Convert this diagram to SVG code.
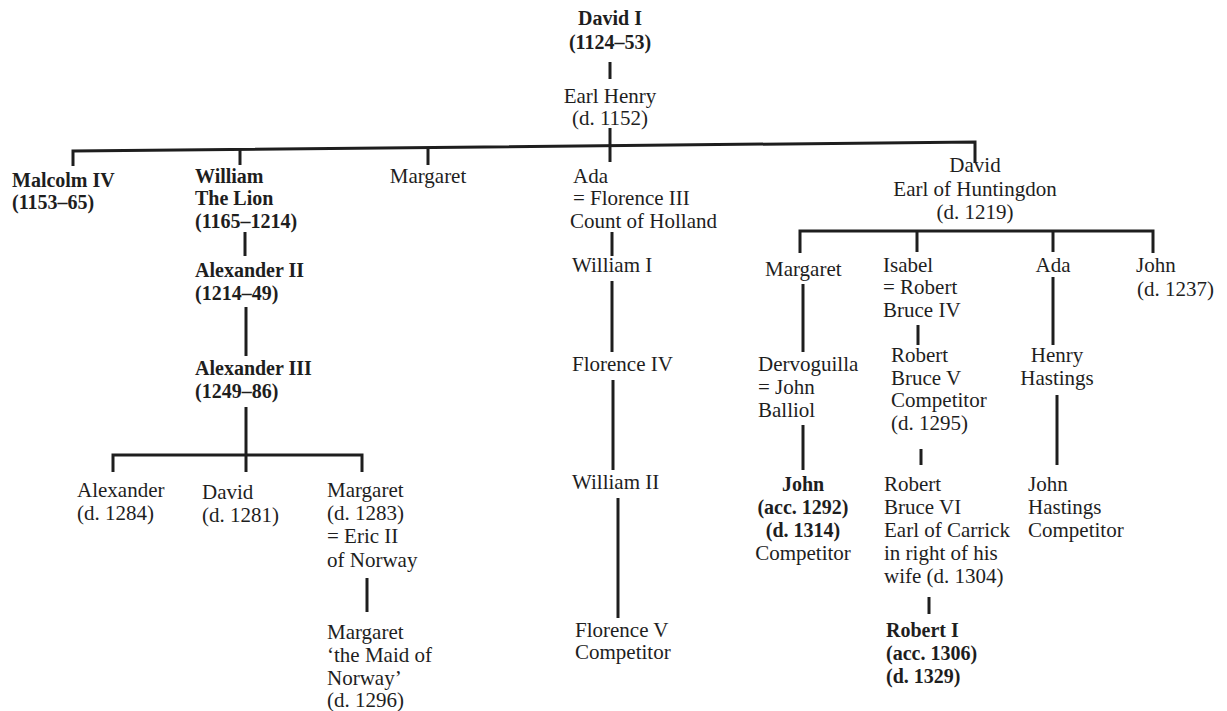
<svg xmlns="http://www.w3.org/2000/svg" width="1227" height="711" viewBox="0 0 1227 711">
<style>
text{font-family:"Liberation Serif","Times New Roman",serif;font-size:21px;fill:#1e1e1e}
.b{font-weight:bold;font-size:20px}
.m{text-anchor:middle}
#connectors path{fill:none;stroke:#1e1e1e;stroke-width:3}
</style>
<rect width="1227" height="711" fill="#fff"/>
<g id="connectors">
<path d="M610,62V79"/>
<path d="M610,128V162"/>
<path d="M73,166V151L975,142V163"/>
<path d="M240,149V165"/>
<path d="M428,147V165"/>
<path d="M245,232V256"/>
<path d="M246,307V356"/>
<path d="M246,407V472"/>
<path d="M113,472V455H362V472"/>
<path d="M367,578V612"/>
<path d="M612,232V256"/>
<path d="M612,281V352"/>
<path d="M613,380V470"/>
<path d="M618,498V618"/>
<path d="M800,253V231H1153V253"/>
<path d="M917,231V252"/>
<path d="M1053,231V252"/>
<path d="M803,284V352"/>
<path d="M803,425V470"/>
<path d="M918,325V345"/>
<path d="M921,449V465"/>
<path d="M929,597V614"/>
<path d="M1053,277V345"/>
<path d="M1057,395V465"/>
</g>
<g id="david1"><text class="b m" x="610" y="25">David I</text><text class="b m" x="610" y="49">(1124–53)</text></g>
<g id="earlhenry"><text class="m" x="610" y="103">Earl Henry</text><text class="m" x="610" y="125">(d. 1152)</text></g>
<g id="malcolm"><text class="b" x="12" y="187">Malcolm IV</text><text class="b" x="12" y="209">(1153–65)</text></g>
<g id="william"><text class="b" x="195" y="183">William</text><text class="b" x="195" y="205">The Lion</text><text class="b" x="195" y="228">(1165–1214)</text></g>
<g id="margaret1"><text class="m" x="428" y="183">Margaret</text></g>
<g id="ada1"><text x="573" y="183">Ada</text><text x="573" y="205">= Florence III</text><text x="570" y="228">Count of Holland</text></g>
<g id="davidhunt"><text class="m" x="975" y="172">David</text><text class="m" x="975" y="196">Earl of Huntingdon</text><text class="m" x="975" y="219">(d. 1219)</text></g>
<g id="alex2"><text class="b" x="195" y="277">Alexander II</text><text class="b" x="195" y="300">(1214–49)</text></g>
<g id="alex3"><text class="b" x="195" y="375">Alexander III</text><text class="b" x="195" y="398">(1249–86)</text></g>
<g id="alexander"><text x="77" y="497">Alexander</text><text x="77" y="520">(d. 1284)</text></g>
<g id="david2"><text x="202" y="499">David</text><text x="202" y="522">(d. 1281)</text></g>
<g id="margaret2"><text x="327" y="497">Margaret</text><text x="327" y="520">(d. 1283)</text><text x="327" y="543">= Eric II</text><text x="327" y="567">of Norway</text></g>
<g id="maid"><text x="327" y="639">Margaret</text><text x="327" y="662">‘the Maid of</text><text x="327" y="685">Norway’</text><text x="327" y="707">(d. 1296)</text></g>
<g id="william1"><text x="572" y="272">William I</text></g>
<g id="florence4"><text x="572" y="371">Florence IV</text></g>
<g id="william2"><text x="572" y="489">William II</text></g>
<g id="florence5"><text x="575" y="637">Florence V</text><text x="575" y="659">Competitor</text></g>
<g id="margaret3"><text x="765" y="276">Margaret</text></g>
<g id="dervoguilla"><text x="758" y="371">Dervoguilla</text><text x="758" y="394">= John</text><text x="758" y="417">Balliol</text></g>
<g id="johnballiol"><text class="b m" x="803" y="491">John</text><text class="b m" x="803" y="514">(acc. 1292)</text><text class="b m" x="803" y="537">(d. 1314)</text><text class="m" x="803" y="560">Competitor</text></g>
<g id="isabel"><text x="883" y="272">Isabel</text><text x="883" y="294">= Robert</text><text x="883" y="317">Bruce IV</text></g>
<g id="bruce5"><text x="891" y="362">Robert</text><text x="891" y="385">Bruce V</text><text x="891" y="407">Competitor</text><text x="891" y="430">(d. 1295)</text></g>
<g id="bruce6"><text x="884" y="491">Robert</text><text x="884" y="514">Bruce VI</text><text x="884" y="537">Earl of Carrick</text><text x="884" y="560">in right of his</text><text x="884" y="583">wife (d. 1304)</text></g>
<g id="robert1"><text class="b" x="886" y="637">Robert I</text><text class="b" x="886" y="660">(acc. 1306)</text><text class="b" x="886" y="683">(d. 1329)</text></g>
<g id="ada2"><text class="m" x="1053" y="272">Ada</text></g>
<g id="henryhastings"><text class="m" x="1057" y="362">Henry</text><text class="m" x="1057" y="385">Hastings</text></g>
<g id="johnhastings"><text x="1028" y="491">John</text><text x="1028" y="514">Hastings</text><text x="1028" y="537">Competitor</text></g>
<g id="john2"><text x="1136" y="272">John</text><text x="1137" y="296">(d. 1237)</text></g>
</svg>
